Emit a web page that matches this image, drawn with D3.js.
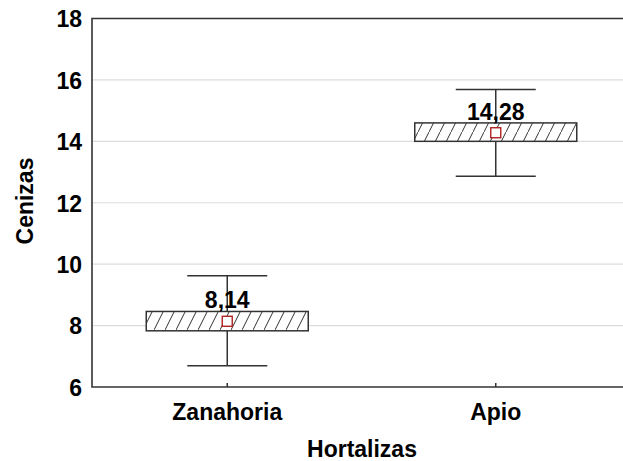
<!DOCTYPE html>
<html>
<head>
<meta charset="utf-8">
<script src="https://cdn.jsdelivr.net/npm/d3@7"></script>
<style>
  html, body { margin: 0; padding: 0; background: #fff; }
  svg { display: block; }
  text { font-family: "Liberation Sans", Arial, sans-serif; font-weight: bold; fill: #000; }
</style>
</head>
<body>
<script>
const categories = ["Zanahoria", "Apio"];
const means = [8.14, 14.28];
const boxLow = [7.83, 14.0];
const boxHigh = [8.46, 14.60];
const whiskerLow = [6.69, 12.86];
const whiskerHigh = [9.62, 15.69];
const meanLabels = ["8,14", "14,28"];
const yTicks = [6, 8, 10, 12, 14, 16, 18];
const xTitle = "Hortalizas";
const yTitle = "Cenizas";

const W = 623, H = 461;
const svg = d3.select("body").append("svg").attr("width", W).attr("height", H);

const plotLeft = 92, plotTop = 18.5, plotBottom = 387;
const x = d3.scaleBand().domain(categories).range([93, 630]).paddingInner(0).paddingOuter(0);
const y = d3.scaleLinear().domain([6, 18]).range([plotBottom, plotTop]);

const defs = svg.append("defs");
const pat = defs.append("pattern").attr("id", "hatch").attr("patternUnits", "userSpaceOnUse")
  .attr("width", 11).attr("height", 22);
pat.append("rect").attr("width", 11).attr("height", 22).attr("fill", "#fff");
pat.append("line").attr("x1", -0.5).attr("y1", 23).attr("x2", 11.5).attr("y2", -1)
  .attr("stroke", "#333").attr("stroke-width", 1);

// gridlines
svg.append("g").selectAll("line").data(yTicks.filter(t => t > 6 && t < 18)).join("line")
  .attr("x1", plotLeft).attr("x2", W).attr("y1", d => y(d)).attr("y2", d => y(d))
  .attr("stroke", "#dcdcdc").attr("stroke-width", 1.2);

// y axis
const yAxis = svg.append("g").attr("transform", `translate(${plotLeft},0)`)
  .call(d3.axisLeft(y).tickValues(yTicks).tickSize(0).tickPadding(10).tickFormat(d3.format("d")));
yAxis.select(".domain").remove();
yAxis.selectAll("text").style("font-size", "23px").attr("dy", "0.36em").attr("fill", "#000");

// x axis labels
const xAxis = svg.append("g").attr("transform", `translate(0,${plotBottom})`)
  .call(d3.axisBottom(x).tickSize(0).tickPadding(17));
xAxis.select(".domain").remove();
xAxis.selectAll("text").style("font-size", "23px").attr("fill", "#000");

// inner x ticks
svg.append("g").selectAll("line").data(categories).join("line")
  .attr("x1", d => x(d) + x.bandwidth() / 2).attr("x2", d => x(d) + x.bandwidth() / 2)
  .attr("y1", plotBottom).attr("y2", plotBottom - 4).attr("stroke", "#333").attr("stroke-width", 1.5);

// frame
svg.append("path").attr("d", `M${W},${plotTop}H${plotLeft}V${plotBottom}H${W}`)
  .attr("fill", "none").attr("stroke", "#333").attr("stroke-width", 1.6);

const boxHalf = 81, capHalf = 40;
const g = svg.append("g");
categories.forEach((c, i) => {
  const cx = x(c) + x.bandwidth() / 2;
  g.append("line").attr("x1", cx).attr("x2", cx).attr("y1", y(whiskerLow[i])).attr("y2", y(whiskerHigh[i]))
    .attr("stroke", "#333").attr("stroke-width", 1.5);
  [whiskerLow[i], whiskerHigh[i]].forEach(v => {
    g.append("line").attr("x1", cx - capHalf).attr("x2", cx + capHalf).attr("y1", y(v)).attr("y2", y(v))
      .attr("stroke", "#333").attr("stroke-width", 1.5);
  });
  g.append("rect").attr("x", cx - boxHalf).attr("width", boxHalf * 2)
    .attr("y", y(boxHigh[i])).attr("height", y(boxLow[i]) - y(boxHigh[i]))
    .attr("fill", "url(#hatch)").attr("stroke", "#333").attr("stroke-width", 1.5);
  g.append("rect").attr("x", cx - 5).attr("y", y(means[i]) - 5).attr("width", 10).attr("height", 10)
    .attr("fill", "#fff").attr("stroke", "#b22222").attr("stroke-width", 1.4);
  g.append("text").attr("x", cx).attr("y", y(boxHigh[i]) - 3).attr("text-anchor", "middle")
    .style("font-size", "23px").text(meanLabels[i]);
});

// titles
svg.append("text").attr("x", 362).attr("y", 457).attr("text-anchor", "middle")
  .style("font-size", "23px").text(xTitle);
svg.append("text").attr("transform", "translate(33,201) rotate(-90)").attr("text-anchor", "middle")
  .style("font-size", "23px").text(yTitle);
</script>
</body>
</html>
